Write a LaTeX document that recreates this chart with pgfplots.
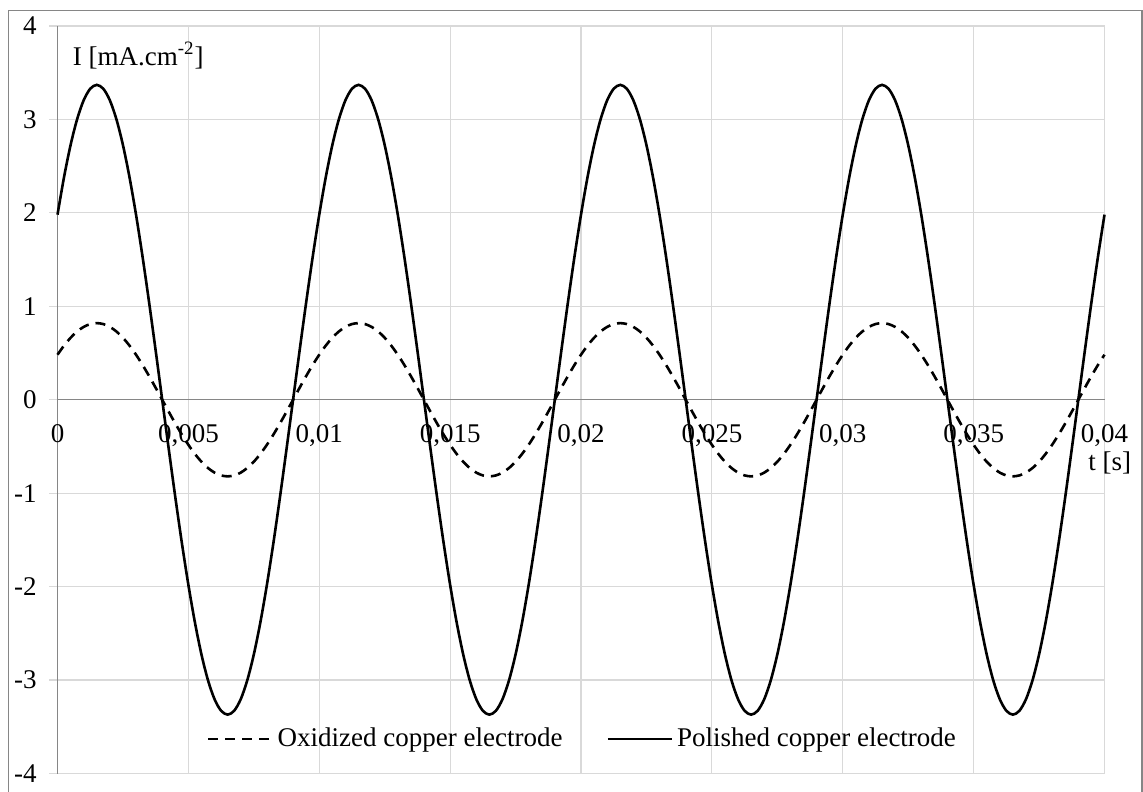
\documentclass[border=0pt]{standalone}
\usepackage{fontspec}
\setmainfont{Liberation Serif}
\usepackage{pgfplots}
\usepackage{pgfplotstable}
\pgfplotsset{compat=1.18}
\definecolor{gridgray}{RGB}{217,217,217}
\definecolor{axisgray}{RGB}{134,134,134}

\pgfplotstableread{
t ox pol
0 0.4820 1.9809
0.00025 0.5798 2.3830
0.0005 0.6634 2.7264
0.00075 0.7306 3.0027
0.001 0.7799 3.2051
0.00125 0.8099 3.3285
0.0015 0.82 3.37
0.00175 0.8099 3.3285
0.002 0.7799 3.2051
0.00225 0.7306 3.0027
0.0025 0.6634 2.7264
0.00275 0.5798 2.3830
0.003 0.4820 1.9809
0.00325 0.3723 1.5299
0.0035 0.2534 1.0414
0.00375 0.1283 0.5272
0.004 0 0
0.00425 -0.1283 -0.5272
0.0045 -0.2534 -1.0414
0.00475 -0.3723 -1.5299
0.005 -0.4820 -1.9809
0.00525 -0.5798 -2.3830
0.0055 -0.6634 -2.7264
0.00575 -0.7306 -3.0027
0.006 -0.7799 -3.2051
0.00625 -0.8099 -3.3285
0.0065 -0.82 -3.37
0.00675 -0.8099 -3.3285
0.007 -0.7799 -3.2051
0.00725 -0.7306 -3.0027
0.0075 -0.6634 -2.7264
0.00775 -0.5798 -2.3830
0.008 -0.4820 -1.9809
0.00825 -0.3723 -1.5299
0.0085 -0.2534 -1.0414
0.00875 -0.1283 -0.5272
0.009 0 0
0.00925 0.1283 0.5272
0.0095 0.2534 1.0414
0.00975 0.3723 1.5299
0.01 0.4820 1.9809
0.01025 0.5798 2.3830
0.0105 0.6634 2.7264
0.01075 0.7306 3.0027
0.011 0.7799 3.2051
0.01125 0.8099 3.3285
0.0115 0.82 3.37
0.01175 0.8099 3.3285
0.012 0.7799 3.2051
0.01225 0.7306 3.0027
0.0125 0.6634 2.7264
0.01275 0.5798 2.3830
0.013 0.4820 1.9809
0.01325 0.3723 1.5299
0.0135 0.2534 1.0414
0.01375 0.1283 0.5272
0.014 0 0
0.01425 -0.1283 -0.5272
0.0145 -0.2534 -1.0414
0.01475 -0.3723 -1.5299
0.015 -0.4820 -1.9809
0.01525 -0.5798 -2.3830
0.0155 -0.6634 -2.7264
0.01575 -0.7306 -3.0027
0.016 -0.7799 -3.2051
0.01625 -0.8099 -3.3285
0.0165 -0.82 -3.37
0.01675 -0.8099 -3.3285
0.017 -0.7799 -3.2051
0.01725 -0.7306 -3.0027
0.0175 -0.6634 -2.7264
0.01775 -0.5798 -2.3830
0.018 -0.4820 -1.9809
0.01825 -0.3723 -1.5299
0.0185 -0.2534 -1.0414
0.01875 -0.1283 -0.5272
0.019 0 0
0.01925 0.1283 0.5272
0.0195 0.2534 1.0414
0.01975 0.3723 1.5299
0.02 0.4820 1.9809
0.02025 0.5798 2.3830
0.0205 0.6634 2.7264
0.02075 0.7306 3.0027
0.021 0.7799 3.2051
0.02125 0.8099 3.3285
0.0215 0.82 3.37
0.02175 0.8099 3.3285
0.022 0.7799 3.2051
0.02225 0.7306 3.0027
0.0225 0.6634 2.7264
0.02275 0.5798 2.3830
0.023 0.4820 1.9809
0.02325 0.3723 1.5299
0.0235 0.2534 1.0414
0.02375 0.1283 0.5272
0.024 0 0
0.02425 -0.1283 -0.5272
0.0245 -0.2534 -1.0414
0.02475 -0.3723 -1.5299
0.025 -0.4820 -1.9809
0.02525 -0.5798 -2.3830
0.0255 -0.6634 -2.7264
0.02575 -0.7306 -3.0027
0.026 -0.7799 -3.2051
0.02625 -0.8099 -3.3285
0.0265 -0.82 -3.37
0.02675 -0.8099 -3.3285
0.027 -0.7799 -3.2051
0.02725 -0.7306 -3.0027
0.0275 -0.6634 -2.7264
0.02775 -0.5798 -2.3830
0.028 -0.4820 -1.9809
0.02825 -0.3723 -1.5299
0.0285 -0.2534 -1.0414
0.02875 -0.1283 -0.5272
0.029 0 0
0.02925 0.1283 0.5272
0.0295 0.2534 1.0414
0.02975 0.3723 1.5299
0.03 0.4820 1.9809
0.03025 0.5798 2.3830
0.0305 0.6634 2.7264
0.03075 0.7306 3.0027
0.031 0.7799 3.2051
0.03125 0.8099 3.3285
0.0315 0.82 3.37
0.03175 0.8099 3.3285
0.032 0.7799 3.2051
0.03225 0.7306 3.0027
0.0325 0.6634 2.7264
0.03275 0.5798 2.3830
0.033 0.4820 1.9809
0.03325 0.3723 1.5299
0.0335 0.2534 1.0414
0.03375 0.1283 0.5272
0.034 0 0
0.03425 -0.1283 -0.5272
0.0345 -0.2534 -1.0414
0.03475 -0.3723 -1.5299
0.035 -0.4820 -1.9809
0.03525 -0.5798 -2.3830
0.0355 -0.6634 -2.7264
0.03575 -0.7306 -3.0027
0.036 -0.7799 -3.2051
0.03625 -0.8099 -3.3285
0.0365 -0.82 -3.37
0.03675 -0.8099 -3.3285
0.037 -0.7799 -3.2051
0.03725 -0.7306 -3.0027
0.0375 -0.6634 -2.7264
0.03775 -0.5798 -2.3830
0.038 -0.4820 -1.9809
0.03825 -0.3723 -1.5299
0.0385 -0.2534 -1.0414
0.03875 -0.1283 -0.5272
0.039 0 0
0.03925 0.1283 0.5272
0.0395 0.2534 1.0414
0.03975 0.3723 1.5299
0.04 0.4820 1.9809
}\data

\begin{document}
\fontsize{13.5bp}{16bp}\selectfont
\begin{tikzpicture}
\useasboundingbox (-28.75bp,-9.25bp) rectangle (542.75bp,386.75bp);
\draw[axisgray, line width=0.75bp] (-24.6bp,-12bp) -- (-24.6bp,381.4bp) -- (542.2bp,381.4bp) -- (542.2bp,-12bp);
\begin{axis}[
  at={(0,0)}, anchor=south west,
  scale only axis, width=523.5bp, height=373.75bp,
  xmin=0, xmax=0.04, ymin=-4, ymax=4,
  axis x line*=middle, axis y line*=left,
  axis line style={draw=axisgray, line width=0.6bp},
  hide obscured x ticks=false, hide obscured y ticks=false,
  scaled x ticks=false, scaled y ticks=false,
  xtick={0,0.005,0.01,0.015,0.02,0.025,0.03,0.035,0.04},
  xticklabels={0,{0,005},{0,01},{0,015},{0,02},{0,025},{0,03},{0,035},{0,04}},
  ytick={-4,-3,-2,-1,0,1,2,3,4},
  yticklabels={-4,-3,-2,-1,0,1,2,3,4},
  grid=major,
  major grid style={draw=gridgray, line width=0.6bp},
  xtick style={draw=none},
  ytick style={draw=gridgray, line width=0.6bp},
  tick align=outside, major tick length=4bp,
  xticklabel style={anchor=north, yshift=-3.5bp},
  yticklabel style={anchor=east, xshift=-1.7bp},
  legend style={at={(axis description cs:0.5024,0.046)}, anchor=center,
    draw=none, fill=none, legend columns=2,
    /tikz/every even column/.append style={column sep=20bp}},
  legend image code/.code={\draw[#1] (0bp,0bp) -- (32bp,0bp);},
  clip=false,
]
\addplot[black, line width=1.3bp, dash pattern=on 5bp off 3.5bp, smooth] table[x=t,y=ox]{\data};
\addlegendentry{Oxidized copper electrode}
\addplot[black, line width=1.3bp, smooth] table[x=t,y=pol]{\data};
\addlegendentry{Polished copper electrode}
\node[anchor=north west, inner sep=0pt] at (rel axis cs:0,1) [xshift=7.5bp, yshift=-8bp] {I [mA.cm\textsuperscript{-2}]};
\node[anchor=north east, inner sep=0pt] at (axis cs:0.04,0) [xshift=13.5bp, yshift=-26bp] {t [s]};
\end{axis}
\end{tikzpicture}
\end{document}
